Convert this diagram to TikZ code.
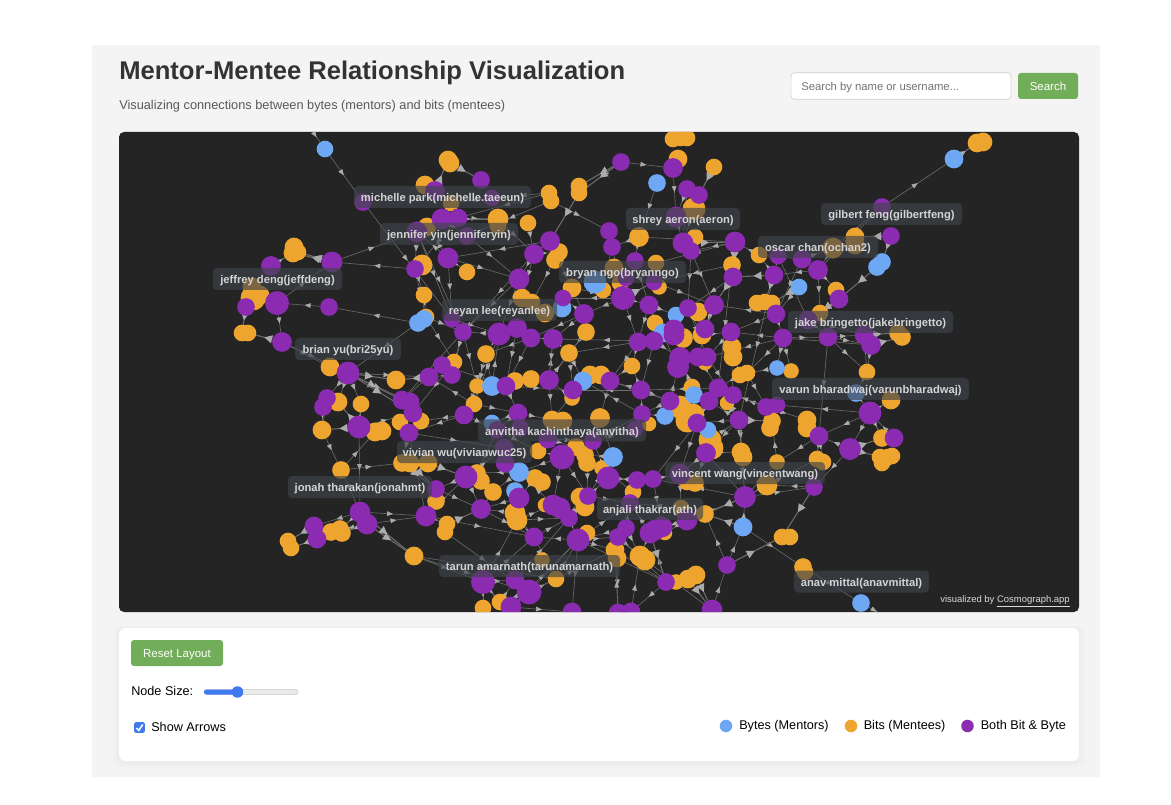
\documentclass[tikz,border=0pt]{standalone}
\usepackage{fontspec}
\setmainfont{Liberation Sans}
\usetikzlibrary{arrows.meta,decorations.markings}
\definecolor{bitc}{HTML}{EDA52F}
\definecolor{bytec}{HTML}{6EA8F5}
\definecolor{bothc}{HTML}{8A2BB1}
\definecolor{pagec}{HTML}{F4F4F4}
\definecolor{darkc}{HTML}{242424}
\definecolor{tagc}{HTML}{3F444A}
\definecolor{tagt}{HTML}{D4D4D4}
\definecolor{edgec}{HTML}{6C6C6C}
\definecolor{tipc}{HTML}{ABABAB}
\definecolor{greenc}{HTML}{72AD5A}
\definecolor{sliderc}{HTML}{3F79F0}
\pgfdeclarelayer{panel}\pgfdeclarelayer{edgelayer}\pgfdeclarelayer{tags}
\pgfsetlayers{panel,edgelayer,main,tags}
\newcommand{\fs}[1]{\fontsize{#1}{#1}\selectfont}
\tikzset{
 dot/.style={circle,inner sep=0pt,outer sep=0pt,draw=none},
 edge/.style={draw=edgec,line width=0.45pt,postaction={decorate},
  decoration={markings,mark=at position 0.5 with {\arrow{Triangle[length=4.5pt,width=3.5pt,color=tipc,fill=tipc]}}}},
 heavy/.style={draw=edgec,line width=0.8pt,postaction={decorate},
  decoration={markings,mark=at position 0.5 with {\arrow{Triangle[length=6pt,width=6pt,color=tipc,fill=tipc]}}}},
 tag/.style={rounded corners=3pt,fill=tagc,fill opacity=.65,text opacity=1,text=tagt,inner sep=0pt,minimum height=16.5pt,text height=9pt,text depth=2pt,font=\fs{8.4}\bfseries},
 uitext/.style={anchor=west,inner sep=0pt,font=\fs{9.5},text=black,text height=7.6pt,text depth=2pt},
 btn/.style={rounded corners=2.2pt,fill=greenc,text=white,inner sep=0pt,font=\fs{8.6},text height=9.2pt,text depth=1.8pt},
 legenddot/.style={dot,minimum size=9.4pt},
}
\begin{document}
\begin{tikzpicture}[x=0.75pt,y=-0.75pt]
\useasboundingbox (0,0) rectangle (1171,805);
\begin{pgfonlayer}{panel}
\fill[white] (0,0) rectangle (1171,805);
\fill[pagec] (92,45) rectangle (1100,777);
\fill[darkc,rounded corners=3.75pt] (119,132) rectangle (1079,612);
\foreach \g in {4,3,2,1}{\fill[black,opacity=.009,rounded corners=5pt] (119-\g*1.5,628-\g*.5) rectangle (1079+\g*1.5,761+\g*2);}
\fill[white,rounded corners=5pt] (119,628) rectangle (1079,761);
\end{pgfonlayer}
% header
\node[anchor=west,inner sep=0pt,font=\fs{19.2}\bfseries,text=black!80] (title) at (119,72.5) {Mentor-Mentee Relationship Visualization};
\node[anchor=west,inner sep=0pt,font=\fs{9.58},text=black!65] (subtitle) at (119,106) {Visualizing connections between bytes (mentors) and bits (mentees)};
\node[draw=black!14,fill=white,rounded corners=2.6pt,line width=.7pt,minimum width=165pt,minimum height=20pt,inner sep=0pt] (searchbox) at (901,86) {};
\node[anchor=west,inner sep=0pt,font=\fs{8.45},text=black!55,text height=9pt,text depth=2pt] (placeholder) at (801,86) {Search by name or username...};
\node[btn,minimum width=45pt,minimum height=19.5pt] (searchbtn) at (1048,86) {Search};
% graph nodes
\begin{scope}
\clip[rounded corners=3.75pt] (119,132) rectangle (1079,612);
\coordinate (offa) at (313,132);
\coordinate (offb) at (885,616);
\foreach \n/\x/\y/\r in {
o425/425/185/9,o448/448/160/9,o450/450/163/9,o294/294/247/9,o293/293/253/9,o298/298/252/8,o422/422/265/10,
o253/253/298/12,o252/252/287/9,o260/260/295/9,o424/424/295/8,o426/426/317/8,o242/242/333/8,o248/248/333/8,
o330/330/367/9,o680/680/138/8,o687a/687/138/8,o673/673/139/8,o678/678/159/9,o714/714/167/8,o694/694/209/11,
o549/549/193/8,o551/551/201/8,o579/579/186/8,o5792/579/193/8,o451/451/203/8,o498/498/219/10,o4982/498/226/8,
o528/528/223/8,o427/427/227/9,o639/639/237/9.5,o695/695/237/8,o559/559/252/8.5,o555/555/260/8.5,o467/467/272/8,
o732/732/265/8.5,o656/656/263/8,o614/614/268/9,o572/572/288/9,o603/603/290/8,o620/620/283/8,o659/659/287/7.5,
o522/522/298/9,o532/532/302/8,o545/545/313/9,o698/698/312/9,o586/586/332/8.5,o655/655/323/8,o683/683/338/9.5,
o702/702/335/9,o732b/732/347/9,o733/733/357/9,o569/569/353/8.5,o632/632/366/8,o487/486/354/8.5,o454/454/362/8,
o590/590/375/9,o601/601/375/9,o705/705/363/7,o759/759/255/8,o855/855/237/9,o8552/855/245/9,o833/833/248/10,
o836/836/290/8,o757/757/303/8,o765/765/302/8,o772/772/303/8,o820/820/313/8,o898/898/333/8.5,o902/902/337/8.5,
o867/867/372/8,o791/791/371/7.5,o740/740/375/8,o747/747/373/8,o977/977/143/9,o983/983/142/9,o396/396/380/9,
o477/477/386/7.5,o515/515/381/8.5,o531/531/379/8.5,o338/338/402/9,o361/361/404/8,o474/474/404/8,o400/400/422/8,
o421/421/421/8,o552/552/420/9,o563/563/421/9,o322/322/430/9,o375/375/432/9,o382/382/431/9,o538/538/451/8,
o341/341/470/8.5,o402/402/463/8.5,o410/410/463/9,o428/428/463/9,o477b/477/473/8.5,o481/481/481/8.5,o535/535/478/8.5,
o542/542/482/8.5,o493/493/492/8.5,o436/436/501/8.5,o515b/515/513/10,o517/517/520/10,o545b/545/505/7,o447/447/524/8,
o445/445/532/8,o331/331/532/8.5,o342/342/533/8.5,o340/340/529/8.5,o288/288/541/8,o291/291/548/8,o414/414/556/9,
o542b/542/560/7.5,o556/556/579/8,o500/500/602/8,o483/483/608/8,o572b/572/398/7.5,o600/600/418/9.5,o585/585/455/8.5,
o587/587/463/8.5,o576/576/447/8.5,o602/602/468/7.5,o633/633/492/8,o580/580/497/9,o585b/585/507/9,o587b/587/533/8,
o615/615/550/9,o617/617/558/9,o640/640/556/10,o645/645/560/10,o665/665/533/7,o676/676/582/7.5,o688/688/579/9,
o696/696/575/9,o649/649/424/7,o692/692/387/8,o680b/680/407/11,o693/693/415/11,o687/687/421/11,o710/710/440/11,
o712/712/448/11,o772b/772/421/8.5,o770/770/428/8.5,o807/807/420/9,o8072/807/428/9,o741/741/452/9,o743/743/457/9,
o777/777/462/7.5,o817/817/459/8,o823/823/462/8,o767/767/485/10,o705b/705/514/8.5,o681/681/508/8,o695b/695/483/8.5,
o687b/687/482/8,o782/782/537/8,o790/790/537/8,o803/803/567/8.5,o805/805/572/8,o727/727/403/7,o891/891/400/9,
o882/882/438/8.5,o880/880/457/8,o888/888/457/8,o8822/882/463/8,o892/892/456/8}
{\node[dot,fill=bitc,minimum size={2.08*\r*0.75pt}] (\n) at (\x,\y) {};}
\foreach \n/\x/\y/\r in {
b325/325/149/8,b422/424/319/8.5,b418/418/323/8.5,b657/657/183/8.5,b595/595/282/11,b562/562/308/9,b676/676/315/8,
b663/663/333/9,b954/954/159/9,b882/882/262/8.5,b877/877/267/8.5,b799/799/287/8,b777/777/368/7.5,b492/492/386/9.5,
b583/583/381/9,b491/492/423/8,b519/519/472/9.5,b515/515/491/8.5,b613/613/457/9.5,b694/694/395/8.5,b665/665/416/8.5,
b708/708/430/8,b743/743/527/9,b856/856/393/8.5,b861/861/603/8.5}
{\node[dot,fill=bytec,minimum size={2.08*\r*0.75pt}] (\n) at (\x,\y) {};}
\foreach \n/\x/\y/\r in {
p363/363/202/8.5,p435/435/191/9.5,p417/417/232/10,p442/442/219/10,p458/458/218/9,p271/271/266/9.5,p332/332/262/10,
p415/415/269/8.5,p246/246/307/8.5,p277/277/303/11.5,p329/329/307/8.5,p282/282/342/9.5,p348/348/373/11,p673/673/168/9.5,
p621/621/162/8.5,p687a/687/189/8.5,p699/699/195/8.5,p676/676/217/10,p481/481/180/8.5,p492/492/198/8,p467/467/236/8.5,
p609/609/231/8.5,p612/612/247/8.5,p550/550/241/9.5,p534/534/254/9.5,p683/683/243/10,p691/691/251/8.5,p735/735/242/10,
p448/448/258/10,p733/733/277/9,p635/635/261/8.5,p519/519/279/10,p626/626/278/8,p654/654/282/8,p623/623/298/11.5,
p649/649/305/9,p688/688/308/8.5,p714/714/305/9.5,p563/563/298/8,p584/584/314/9.5,p452/452/319/8,p463/463/332/8.5,
p499/499/334/11,p517/517/328/9.5,p531/531/338/9,p553/553/339/9.5,p674/674/330/10,p6742/674/335/10,p638/638/342/9,
p654b/654/341/9,p705/705/329/9,p731/731/332/9,p680/680/358/10.5,p678/678/367/10.5,p698/698/357/9,p707/707/357/9,
p442b/442/365/8.5,p882/882/207/8.5,p891/891/236/8.5,p778/778/256/8,p802/802/259/9,p818/818/270/9.5,p774/774/275/9,
p839/839/299/9,p776/776/314/9,p808/808/320/9,p783/783/338/9,p828/828/337/9,p864/864/335/9,p871/871/345/9.5,
p429/429/377/9,p452b/452/375/8.5,p506/506/386/9,p549/549/380/9.5,p327/327/398/8.5,p323/323/407/8.5,p402/402/400/9,
p410/410/402/9,p413/413/413/9,p464/464/415/9,p518/518/413/9,p359/359/427/11,p409/409/433/9,p497/497/430/8.5,
p520/520/428/8.5,p548/548/439/9,p504/504/448/9,p562/562/457/12,p466/466/477/11,p505/505/463/9,p436/436/489/8.5,
p519b/519/498/10,p481b/481/509/9.5,p553b/553/505/10,p560/560/508/10,p426/426/516/10,p360/360/512/10,p367/367/524/10,
p314/314/526/9,p317/317/539/9,p534b/534/537/9,p483/483/582/11.5,p515/515/580/9,p529/529/592/12,p511/511/607/10,
p573/573/390/9,p610/610/381/9,p641/641/390/9,p669/670/401/9,p718/718/388/9,p709/709/401/9,p733b/733/395/8.5,
p766/766/407/8.5,p777/777/405/8,p642/642/414/8.5,p697/697/423/9,p739/739/420/9,p706/706/453/9.5,p819/819/436/9,
p850/850/449/10.5,p870/870/413/11,p894/894/438/9,p680b/680/474/10,p637/637/480/8.5,p653/653/479/8.5,p608/608/478/11,
p593/593/441/8.5,p635b/635/429/8,p814/814/487/8.5,p745/745/497/10.5,p687/687/520/10,p630/630/503/8.5,p588/588/496/8.5,
p569/569/518/8.5,p579/578/540/11,p626b/626/528/8.5,p618/618/537/8.5,p650/650/533/10,p662/662/527/10,p655/655/530/10,
p666/666/582/8.5,p712/712/610/10,p571/572/612/9,p618b/618/613/9,p631/631/612/9,p727/727/565/8.5}
{\node[dot,fill=bothc,minimum size={2.08*\r*0.75pt}] (\n) at (\x,\y) {};}
\end{scope}
% connectors
\begin{pgfonlayer}{edgelayer}
\begin{scope}
\clip[rounded corners=3.75pt] (119,132) rectangle (1079,612);
\foreach \a/\b in {
offa/b325,b325/p363,p363/p452,p415/p332,p332/p417,p329/p277,b418/p329,p277/p332,p277/p282,b418/p348,p282/p348,p282/o330,p417/p415,
p415/o424,o424/o426,p415/o426,p442/p467,p458/o498,p458/o451,p442/o498,p458/p415,p492/o451,o549/p492,o549/p458,o551/p467,p621/p673,
o551/p609,b657/o639,p673/p676,p687a/p676,p687a/p683,p699/o694,p676/p683,o694/p683,o528/p534,p534/p550,p534/p519,p534/o559,p550/o559,
p550/p448,o498/p534,p534/o522,p448/o467,p448/p417,p448/p519,p467/p519,p448/p452,p448/o427,p519/o522,p519/p463,o639/p612,o639/p635,
p609/p612,p612/p623,p635/p623,o656/p654,p735/o639,p735/o656,p683/o695,p691/p714,p654/p714,p623/p649,p623/p563,p623/p584,o572/p623,
p584/o586,p584/p563,p584/p553,p584/p531,p649/o655,p649/p638,p714/p688,p714/p698,p714/o702,b562/o545,p463/p452,p499/p517,p499/p463,
p499/o487,p517/p531,p531/o487,p553/o569,p553/p531,o586/o569,p638/o632,p654b/p680,p882/b954,p818/p882,o833/p882,o833/p818,p818/o836,
p818/p774,p778/p808,p778/p774,p802/o759,p802/p776,p802/o833,o759/p735,p774/o759,b799/p776,o772/p776,p776/o757,p776/p783,p776/p731,
p839/o820,p818/o820,o820/p828,p808/p828,p776/p714,p783/p828,p828/p864,p828/p871,p783/p871,p808/p864,p828/o867,p871/o867,p864/o867,
p828/p819,p783/p731,p783/p707,p783/o791,p783/b777,b856/p870,p894/p870,p870/p819,p870/p850,p850/p819,p870/p777,o867/b856,p549/p553,
p549/o586,p549/o569,p549/o515,b492/p499,b492/o477,o487/b492,p506/o531,p506/p518,p452b/p429,p452b/p463,p452b/p442b,p506/p442b,p348/p429,
p348/o338,p348/p327,p348/o361,p348/p410,p327/o322,p323/o322,o338/p323,o361/p359,p359/o375,p359/o361,p359/p360,o322/o341,o341/o375,
o341/p360,p360/p314,p367/o331,p314/o331,p317/o331,p367/p426,o414/o556,o414/p483,p426/p402,p426/p466,o436/p426,p409/o402,p413/o421,
p413/o400,p464/o421,p464/o474,p464/p409,o474/p429,p466/p436,p466/p504,p466/o493,p466/p481b,p426/o447,o445/p529,p481b/o493,p483/o483,
p483/p515,p515/p529,p529/o500,p529/o556,p511/o500,p529/p579,p483/p534b,p534b/o517,p534b/o556,p579/o587b,p569/p579,p579/p618,p579/p630,
p579/o615,p579/p534b,o615/p666,o617/p618b,p618/o640,o640/p712,p666/o676,p666/p631,p666/o688,p712/p727,p727/b743,b743/o803,o803/b861,
b861/offb,b743/p745,p745/p814,p814/o767,o767/p745,p745/o777,o777/o772b,p745/o817,p819/o777,p819/o823,p850/p814,p739/o741,p739/o743,
p739/p709,p766/o772b,p766/p733b,p766/o807,o807/p819,p766/p718,p706/p697,p706/b708,p706/o741,o710/p739,p697/p680b,p706/p680b,p706/o695b,
o705b/p650,p687/o665,p687/p745,p653/p680b,p653/p637,p608/b613,p608/o602,p608/p593,p608/o587,p593/p635b,p635b/p642,p642/p641,p641/p610,
p610/o600,p641/o632,p641/p669,p669/p678,p669/b694,p669/b665,p669/o680b,p678/p649,p680/p698,p698/p718,p707/p733b,p709/o692,o692/p680,
b583/o552,b583/p573,p573/o572b,o572b/p549,p506/p573,p518/b491,p518/o552,p518/p497,p549/o552,o563/p548,p548/p562,p520/p504,p520/p497,
p497/b491,p504/p505,p562/o538,p562/b519,p562/p588,p562/p553b,p553b/b519,b519/o477b,b519/o493,o535/p519b,p519b/p481b,o515b/p481b,
o515b/p534b,o517/p569,o517/p553b,p553b/p569,p569/o580,p569/p588,p588/p630,p630/o633,o633/p637,p588/p608,p588/b613,p626b/p630,p626b/p579,
p626b/o640,o600/b613,o600/p593,b613/o585,p548/o576,o585/p593,o576/p562,o602/o633,p579/p571,p618b/o615,p631/o640,p511/p571,o500/p515,
p452/p499,p463/o477,o426/p463,o426/o454,p463/o454,p442b/p429,p442b/p402,o454/p413,p463/p402,o487/o477,o477/p464,o474/p518,o569/b583,
o632/p610,p499/o474,o487/o474,p517/p506,p531/p506,p553/p549,o569/p573,p638/p610,p654b/p641,o655/p654b,p688/p707,o702/p731,p731/o732b,
o732/p718,p731/p733b,p731/p707,p783/o747,b777/o747,o747/p766,o740/p718,o732b/o740,p774/p739,p417/p463,p417/p452,p534/p463,p519/p499,
o559/o532,p612/o603,p550/p584,p623/p638,p635/p649,p688/p654b,p714/p705,p688/o702,p735/p691,o695/p691,p691/p688,p733/p688,o732/p654,
p649/b676,p638/o569,p654b/p553,p718/p641,p641/p573,p610/p669,p669/p642,p642/b583,p464/p497,p359/p413,p360/p426,o341/o402,p409/p504,
p497/o538,p504/b519,p436/p481b,o477b/p497,o538/p548,p548/p593,p562/p593,p593/p642,p608/p637,o587/p588,p630/o615,p650/p630,p653/p662,
p697/p653,p697/b665,b665/p642,p709/p697,p739/p697,p739/p706,p739/p745,p706/p745,o741/p745,p745/p653,p680b/o681,o681/p630,p687/p655,
p727/o705b,p666/p650,p618/p666,p579/p666,p529/o615,p534b/p569,p481b/p534b,p426/p534b,o414/p529,p515/p569,o556/p579,p483/o517,p511/p579}
{\draw[edge] (\a) -- (\b);}
\foreach \a/\b in {
p332/o293,p332/o298,p271/o293,p277/o253,p277/o260,p282/o248,p246/o242,o450/p481,p435/o448,p621/o579,p621/o5792,o5792/p550,
o714/p699,o678/p673,p735/p733,p733/p714,p623/p654,p683/p735,b954/o977,p891/o855,p891/b882,b877/p839,p774/p733,p774/o765,b799/o772,
p839/p808,p864/o898,p871/o902,p870/o891,p870/o882,p850/o882,p850/o880,p429/o396,p348/o396,p348/p402,p348/p413,p359/o322,p359/o338,
p360/o340,p367/o342,p314/o288,p317/o291,p367/o414,o428/p466,o447/p481b,p483/o500,p529/p511,p650/o640,p650/p666,o688/p712,o696/p712,
p727/o782,p745/o705b,b743/o705b,p814/o782,p819/o817,p739/p718,p739/o772b,p637/p608,o402/p436,o410/p436,p360/o414}
{\draw[heavy] (\a) -- (\b);}
\end{scope}
\end{pgfonlayer}
% name tags
\begin{pgfonlayer}{tags}
\foreach \n/\t/\x/\y/\w in {
t1/michelle park(michelle.taeeun)/442.5/197/177,
t2/jennifer yin(jenniferyin)/449/234/138,
t3/jeffrey deng(jeffdeng)/277.5/279/129,
t4/brian yu(bri25yu)/348/349/106,
t5/shrey aeron(aeron)/683/219/114,
t6/bryan ngo(bryanngo)/622.5/272/127,
t7/reyan lee(reyanlee)/499.5/310/115,
t8/gilbert feng(gilbertfeng)/891.5/214/141,
t9/oscar chan(ochan2)/818/247/120,
t10/jake bringetto(jakebringetto)/870.5/322/165,
t11/varun bharadwaj(varunbharadwaj)/870.5/389/197,
t12/anvitha kachinthaya(anvitha)/562/430.5/168,
t13/vivian wu(vivianwuc25)/464.5/452/135,
t14/jonah tharakan(jonahmt)/360/487/144,
t15/vincent wang(vincentwang)/745/473/160,
t16/anjali thakrar(ath)/650/509/106,
t17/tarun amarnath(tarunamarnath)/529.5/566/181,
t18/anav mittal(anavmittal)/861.5/581.5/135}
{\node[tag,minimum width={\w*0.75pt}] (\n) at (\x,\y) {\t};}
\node[anchor=east,inner sep=0pt,text=white!85!black,font=\fs{7.1}] (credit) at (1070,601) {visualized by \underline{Cosmograph.app}};
\end{pgfonlayer}
% controls
\node[btn,minimum width=69pt,minimum height=19.5pt] (resetbtn) at (177,653) {Reset Layout};
\node[uitext] (sizelabel) at (131,692) {Node Size:};
\node[draw=black!22,fill=black!8,rounded corners=1.9pt,line width=.4pt,minimum width=70.5pt,minimum height=3.8pt,inner sep=0pt] (track) at (251,692) {};
\fill[sliderc,rounded corners=1.9pt] (204,689.5) rectangle (238,694.5);
\node[dot,fill=sliderc,minimum size=8.6pt] (knob) at (237.5,692) {};
\node[fill=sliderc,rounded corners=1.3pt,minimum size=8.2pt,inner sep=0pt] (checkbox) at (139.5,727.5) {};
\draw[white,line width=1.1pt] (136.5,728) -- (138.7,730.5) -- (142.7,724.5);
\node[uitext] (arrowslabel) at (151,728) {Show Arrows};
\node[legenddot,fill=bytec] (l1) at (726,726) {};
\node[uitext] (l1t) at (739,726) {Bytes (Mentors)};
\node[legenddot,fill=bitc] (l2) at (851,726) {};
\node[uitext] (l2t) at (863.5,726) {Bits (Mentees)};
\node[legenddot,fill=bothc] (l3) at (967.5,726) {};
\node[uitext] (l3t) at (980.5,726) {Both Bit \& Byte};
\end{tikzpicture}
\end{document}
